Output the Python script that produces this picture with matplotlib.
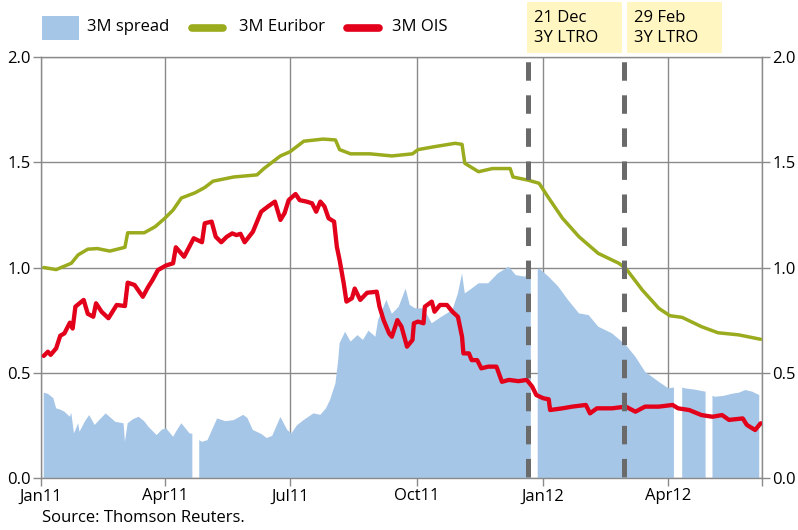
import numpy as np
import matplotlib
matplotlib.use('Agg')
import matplotlib.pyplot as plt
from matplotlib.patches import Rectangle
from matplotlib.lines import Line2D
from matplotlib.ticker import FormatStrFormatter

plt.rcParams['font.family'] = ['Open Sans', 'DejaVu Sans']
plt.rcParams['lines.scale_dashes'] = False

BASE = np.datetime64('2011-01-01')

# ---- data (day offsets from 2011-01-01, values in %) ----
euribor_days = [2, 11, 22, 27, 34, 41, 50, 61, 63, 75, 83, 90, 96, 102, 112, 119, 125, 140, 157, 162,
                174, 181, 191, 205, 214, 217, 225, 239, 255, 270, 274, 286, 301, 306, 308, 318, 328,
                341, 343, 354, 362, 369, 379, 391, 405, 420, 425, 437, 449, 457, 466, 480, 492, 507, 523]
euribor_vals = [1.00, 0.99, 1.02, 1.06, 1.087, 1.09, 1.078, 1.096, 1.165, 1.165, 1.194, 1.234, 1.273, 1.33,
                1.355, 1.38, 1.41, 1.43, 1.44, 1.47, 1.53, 1.55, 1.60, 1.61, 1.606, 1.56, 1.54, 1.54,
                1.53, 1.54, 1.56, 1.574, 1.59, 1.585, 1.495, 1.455, 1.47, 1.47, 1.43, 1.415, 1.40, 1.33,
                1.234, 1.146, 1.067, 1.02, 0.996, 0.893, 0.806, 0.771, 0.763, 0.719, 0.69, 0.68, 0.659]

ois_days = [2, 5, 7, 11, 14, 17, 21, 23, 25, 31, 34, 38, 40, 44, 49, 55, 61, 63, 68, 74, 78, 81, 85, 91,
            96, 98, 104, 111, 117, 119, 124, 127, 131, 135, 139, 142, 145, 148, 154, 160, 165, 170, 174,
            177, 180, 185, 188, 193, 197, 200, 203, 206, 209, 213, 215, 217, 220, 222, 226, 228, 232, 237,
            244, 246, 249, 253, 255, 259, 262, 266, 270, 271, 274, 278, 279, 284, 286, 290, 295, 299, 303,
            306, 307, 311, 313, 317, 320, 325, 331, 335, 340, 347, 353, 357, 360, 365, 369, 370, 379, 386,
            396, 399, 404, 415, 425, 432, 439, 449, 459, 463, 471, 480, 488, 495, 500, 510, 513, 519, 523]
ois_vals = [0.58, 0.60, 0.585, 0.616, 0.676, 0.687, 0.738, 0.71, 0.814, 0.846, 0.78, 0.766, 0.83, 0.79,
            0.759, 0.822, 0.817, 0.928, 0.917, 0.861, 0.909, 0.94, 0.988, 1.01, 1.02, 1.096, 1.051, 1.139,
            1.12, 1.21, 1.218, 1.146, 1.12, 1.146, 1.162, 1.154, 1.16, 1.12, 1.17, 1.265, 1.29, 1.313,
            1.226, 1.258, 1.32, 1.349, 1.32, 1.313, 1.305, 1.265, 1.313, 1.29, 1.234, 1.218, 1.099, 1.036,
            0.925, 0.838, 0.854, 0.90, 0.846, 0.88, 0.885, 0.814, 0.75, 0.687, 0.671, 0.75, 0.719, 0.624,
            0.656, 0.735, 0.743, 0.735, 0.814, 0.838, 0.79, 0.822, 0.822, 0.79, 0.766, 0.671, 0.592, 0.592,
            0.56, 0.56, 0.521, 0.529, 0.529, 0.457, 0.466, 0.46, 0.466, 0.434, 0.394, 0.379, 0.374, 0.323,
            0.331, 0.339, 0.347, 0.307, 0.331, 0.331, 0.339, 0.315, 0.339, 0.339, 0.347, 0.331, 0.323,
            0.299, 0.291, 0.299, 0.276, 0.283, 0.252, 0.228, 0.26]

# NaN marks missing data (gaps in the spread series)
spread_days = [2, 5, 9, 11, 14, 17, 21, 22, 24, 27, 28, 32, 35, 39, 43, 47, 50, 54, 60, 61, 63, 67, 71,
               75, 78, 84, 88, 91, 96, 99, 102, 108, 110, 112, 115, 117, 121, 128, 134, 140, 147, 150,
               154, 160, 164, 168, 174, 179, 182, 186, 191, 198, 203, 207, 210, 214, 216, 217, 221, 225,
               230, 234, 238, 243, 245, 251, 255, 260, 265, 268, 272, 278, 284, 291, 299, 303, 306, 308,
               313, 318, 325, 332, 340, 345, 352, 354, 356, 358, 361, 362, 369, 376, 383, 391, 398, 405,
               415, 425, 432, 439, 449, 456, 460, 463, 466, 468, 475, 483, 485, 488, 490, 496, 502, 507,
               512, 517, 522]
spread_vals = [0.405, 0.40, 0.379, 0.331, 0.325, 0.315, 0.291, 0.31, 0.212, 0.26, 0.22, 0.27, 0.299,
               0.252, 0.28, 0.307, 0.29, 0.267, 0.26, 0.172, 0.26, 0.28, 0.291, 0.27, 0.244, 0.204, 0.23,
               0.236, 0.196, 0.23, 0.26, 0.212, 0.21, np.nan, 0.18, 0.172, 0.18, 0.283, 0.27, 0.275, 0.30,
               0.285, 0.228, 0.21, 0.19, 0.20, 0.29, 0.228, 0.212, 0.25, 0.276, 0.307, 0.30, 0.33, 0.37,
               0.45, 0.56, 0.64, 0.695, 0.648, 0.679, 0.656, 0.70, 0.671, 0.75, 0.846, 0.78, 0.814, 0.90,
               0.822, 0.806, 0.806, 0.735, 0.766, 0.798, 0.877, 0.972, 0.877, 0.90, 0.925, 0.925, 0.972,
               1.004, 0.964, 0.956, 0.996, 0.97, np.nan, 0.99, 0.996, 0.956, 0.909, 0.846, 0.782, 0.774,
               0.719, 0.687, 0.632, 0.576, 0.505, 0.457, 0.426, 0.43, np.nan, 0.43, 0.426, 0.42, 0.41,
               np.nan, 0.39, 0.386, 0.39, 0.40, 0.405, 0.418, 0.41, 0.394]

events = ['2011-12-21', '2012-02-29']
event_labels = ['21 Dec\n3Y LTRO', '29 Feb\n3Y LTRO']

tick_dates = ['2011-01-01', '2011-04-01', '2011-07-01', '2011-10-01', '2012-01-01', '2012-04-01']
tick_labels = ['Jan11', 'Apr11', 'Jul11', 'Oct11', 'Jan12', 'Apr12']
x_end = '2012-06-08'

# ---- styles ----
BLUE = '#A6C6E7'
GREEN = '#9AAB1E'
RED = '#E2001A'
GRID = '#8A8A8A'
DASH = '#6A6A6A'
BOX = '#FFF6C2'
FS = 12

def to_dates(days):
    return BASE + np.array(days).astype('timedelta64[D]')

W, H = 798, 530
fig = plt.figure(figsize=(W / 100, H / 100), dpi=100)
ax = fig.add_axes([41 / W, 52 / H, 721 / W, 421 / H])

def fx(p):
    return p / W

def fy(p):
    return 1 - p / H

ax.fill_between(to_dates(spread_days), 0, np.array(spread_vals, dtype=float),
                color=BLUE, lw=0, zorder=2)
ax.plot(to_dates(euribor_days), euribor_vals, color=GREEN, lw=2.5, zorder=3,
        solid_joinstyle='round', solid_capstyle='round')
ax.plot(to_dates(ois_days), ois_vals, color=RED, lw=3.1, zorder=4,
        solid_joinstyle='round', solid_capstyle='round')

for d in events:
    ax.axvline(np.datetime64(d), color=DASH, lw=3.6, dash_capstyle='butt',
               linestyle=(23.0, (13.3, 10.5)), zorder=5)

ax.set_xlim(np.datetime64('2011-01-01'), np.datetime64(x_end))
ax.set_ylim(0, 2.0)
xt = [np.datetime64(t) for t in tick_dates] + [np.datetime64(x_end)]
ax.set_xticks(xt)
ax.set_xticklabels(tick_labels + [''])
ax.set_yticks([0, 0.5, 1.0, 1.5, 2.0])
ax.yaxis.set_major_formatter(FormatStrFormatter('%.1f'))

ax.grid(True, color=GRID, lw=1.0)
ax.set_axisbelow(True)
for s in ax.spines.values():
    s.set_color(GRID)
    s.set_linewidth(1.0)
ax.tick_params(axis='both', direction='out', length=5.5, width=1.0, color=GRID,
               labelsize=FS, pad=2)
ax.tick_params(axis='y', right=True, labelright=True)

# legend
fig.add_artist(Rectangle((fx(42), fy(40)), 37 / W, 24 / H, transform=fig.transFigure,
                         color=BLUE, lw=0))
fig.text(fx(87), fy(27), '3M spread', fontsize=FS, va='center', ha='left')
fig.add_artist(Line2D([fx(192), fx(223)], [fy(28), fy(28)], transform=fig.transFigure,
                      color=GREEN, lw=5.5, solid_capstyle='round'))
fig.text(fx(239), fy(27), '3M Euribor', fontsize=FS, va='center', ha='left')
fig.add_artist(Line2D([fx(347), fx(379)], [fy(28), fy(28)], transform=fig.transFigure,
                      color=RED, lw=5.5, solid_capstyle='round'))
fig.text(fx(392), fy(27), '3M OIS', fontsize=FS, va='center', ha='left')

# event boxes
for left, lab in zip([527, 627], event_labels):
    fig.add_artist(Rectangle((fx(left), fy(53)), 95 / W, 51 / H, transform=fig.transFigure,
                             color=BOX, lw=0))
    l1, l2 = lab.split('\n')
    fig.text(fx(left + 7), fy(18), l1, fontsize=FS, va='center', ha='left')
    fig.text(fx(left + 7), fy(38), l2, fontsize=FS, va='center', ha='left')

fig.text(fx(42), fy(518), 'Source: Thomson Reuters.', fontsize=FS, va='center', ha='left')

fig.savefig('out.png', dpi=100)
